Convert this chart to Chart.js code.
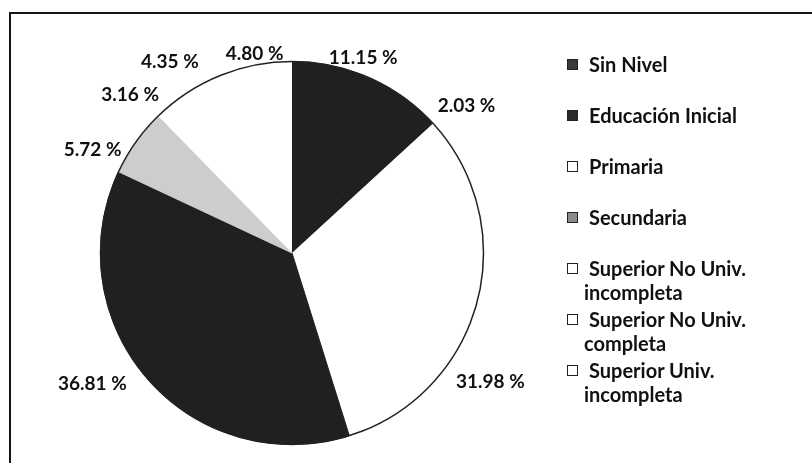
<!DOCTYPE html>
<html>
<head>
<meta charset="utf-8">
<script src="https://cdn.jsdelivr.net/npm/chart.js@4"></script>
<style>
  html, body { margin: 0; padding: 0; background: #fff; }
  #wrap { position: relative; width: 812px; height: 463px; overflow: hidden; }
  #frame { position: absolute; left: 9px; top: 12px; right: -4px; bottom: -4px;
           border-left: 2px solid #151515; border-top: 2px solid #151515; }
  canvas { position: absolute; left: 0; top: 0; }
  #legend { position: absolute; left: 567px; top: 52px; width: 240px;
            font: 700 20px Lato, "Open Sans", sans-serif; color: #111; }
  .item { position: absolute; left: 0; height: 51px; width: 240px; }
  .box { position: absolute; left: 0; top: 7px; width: 9px; height: 9px; border: 1px solid #222; }
  .txt { position: absolute; left: 17px; top: 0; width: 190px; line-height: 24px; text-indent: 5px; white-space: normal; }
</style>
</head>
<body>
<div id="wrap">
  <div id="frame"></div>
  <canvas id="pie" width="812" height="463"></canvas>
  <div id="legend"></div>
</div>
<script>
// categories (the last one is not shown in the original legend)
const categories = [
  'Sin Nivel',
  'Educación Inicial',
  'Primaria',
  'Secundaria',
  'Superior No Univ. incompleta',
  'Superior No Univ. completa',
  'Superior Univ. incompleta',
  'Superior Univ. completa'
];
// percentages
const pctValues = [11.15, 2.03, 31.98, 36.81, 5.72, 3.16, 4.35, 4.80];
const legendCount = 7;

// fills
const DARK = '#202020', LIGHT = '#cdcdcd', WHITE = '#ffffff';
const sliceColors = [DARK, DARK, WHITE, DARK, LIGHT, WHITE, WHITE, WHITE];
const sliceBorders = [1, 1, 0, 1, 1, 0, 0, 0];
const legendColors = ['#3a3a3a', '#2a2a2a', WHITE, '#8a8a8a', WHITE, WHITE, WHITE];

// label nudges: [degrees from slice middle, px beyond the rim]
const labelNudge = [[0, 16], [6, 37], [18, 45], [8, 47], [-8, 33], [-7, 35], [-7.5, 35], [-2, 11]];

const pctLabels = {
  id: 'pctLabels',
  afterDatasetsDraw(chart, args, opts){
    const meta = chart.getDatasetMeta(0);
    const ctx = chart.ctx;
    const first = meta.data[0];
    ctx.save();
    // outline of the pie
    ctx.beginPath();
    ctx.arc(first.x, first.y, first.outerRadius, 0, Math.PI * 2);
    ctx.lineWidth = 1.5;
    ctx.strokeStyle = '#222';
    ctx.stroke();
    ctx.font = opts.font;
    ctx.fillStyle = '#111';
    ctx.textAlign = 'center';
    ctx.textBaseline = 'middle';
    meta.data.forEach((arc, i) => {
      const a = (arc.startAngle + arc.endAngle) / 2 + opts.nudge[i][0] * Math.PI / 180;
      const d = arc.outerRadius + opts.nudge[i][1];
      ctx.fillText(pctValues[i].toFixed(2) + ' %', arc.x + Math.cos(a) * d, arc.y + Math.sin(a) * d);
    });
    ctx.restore();
  }
};

// pie centre (292,253), radius 192
new Chart(document.getElementById('pie'), {
  type: 'pie',
  data: {
    labels: categories,
    datasets: [{
      data: pctValues,
      backgroundColor: sliceColors,
      borderColor: sliceColors,
      borderWidth: sliceBorders,
      hoverOffset: 0
    }]
  },
  options: {
    responsive: false,
    animation: false,
    events: [],
    layout: { padding: { left: 100, right: 328, top: 61, bottom: 18 } },
    plugins: {
      legend: { display: false },
      tooltip: { enabled: false },
      pctLabels: { font: '700 19px Lato, "Open Sans", sans-serif', nudge: labelNudge }
    }
  },
  plugins: [pctLabels]
});

// legend on the right, one fixed slot per entry
const legend = document.getElementById('legend');
categories.slice(0, legendCount).forEach((name, i) => {
  const item = document.createElement('div');
  item.className = 'item';
  item.style.top = (i * 51) + 'px';
  item.innerHTML = `<div class="box" style="background:${legendColors[i]}"></div><div class="txt">${name}</div>`;
  legend.append(item);
});
</script>
</body>
</html>
